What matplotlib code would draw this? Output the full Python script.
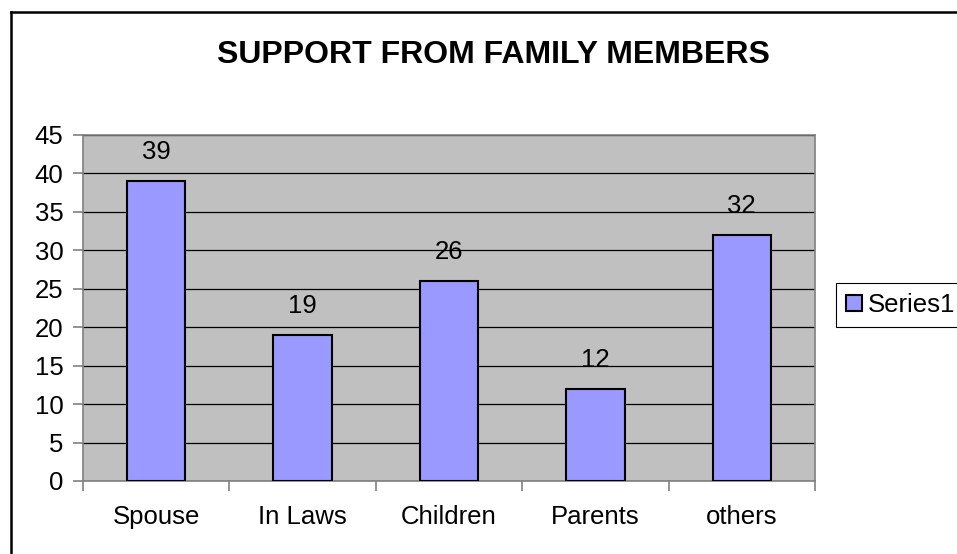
import matplotlib
matplotlib.use("Agg")
import matplotlib.pyplot as plt
from matplotlib.lines import Line2D

categories = ["Spouse", "In Laws", "Children", "Parents", "others"]
values = [39, 19, 26, 12, 32]
series_name = "Series1"
title = "SUPPORT FROM FAMILY MEMBERS"
yticks = [0, 5, 10, 15, 20, 25, 30, 35, 40, 45]

plt.rcParams['font.family'] = ['Liberation Sans', 'DejaVu Sans']

FS = 18.5
W, H = 957, 554
fig = plt.figure(figsize=(W / 100, H / 100), dpi=100)
fig.patch.set_facecolor('white')

ax = fig.add_axes([83 / W, 1 - 481 / H, (815 - 83) / W, (481 - 135) / H])
ax.set_facecolor('#C0C0C0')
x = list(range(len(categories)))
bars = ax.bar(x, values, width=0.4, color='#9999FF', edgecolor='black', linewidth=1.5,
              label=series_name, zorder=3)
ax.set_xlim(-0.5, len(categories) - 0.5)
ax.set_ylim(0, 45)
ax.set_yticks(yticks)
ax.set_yticklabels([str(t) for t in yticks])
ax.yaxis.grid(True, color='black', linewidth=0.9, zorder=1)
ax.set_axisbelow(True)
ax.set_xticks([i + 0.5 for i in x[:-1]] + [-0.5, len(categories) - 0.5], minor=False)
ax.set_xticklabels([''] * (len(categories) + 1))
ax.set_xticks(x, minor=True)
ax.set_xticklabels(categories, minor=True)
ax.tick_params(axis='x', which='minor', length=0, pad=17, labelsize=FS)
ax.tick_params(axis='x', which='major', length=7, color='#808080', width=1.2)
ax.tick_params(axis='y', length=7, color='#808080', width=1.2, pad=7, labelsize=FS)
for s in ax.spines.values():
    s.set_color('#808080')
    s.set_linewidth(1.2)

for i, v in zip(x, values):
    ax.annotate(str(v), (i, v), xytext=(0, 21), textcoords='offset points',
                ha='center', va='center', fontsize=FS)

fig.text(493 / W, 1 - 55 / H, title, ha='center', va='center', fontsize=23,
         fontweight='bold')

# outer chart frame
fig.add_artist(Line2D([11 / W, 11 / W], [1 - 12 / H, -0.1], transform=fig.transFigure,
                      color='black', linewidth=1.8))
fig.add_artist(Line2D([11 / W, 1.1], [1 - 12 / H, 1 - 12 / H], transform=fig.transFigure,
                      color='black', linewidth=1.8))

leg = fig.legend(handles=[bars], labels=[series_name], loc='center left',
                 bbox_to_anchor=(836 / W, 1 - 305 / H), fontsize=FS,
                 fancybox=False, handlelength=0.6, handleheight=0.6,
                 handletextpad=0.25, borderpad=0.4, borderaxespad=0, framealpha=1)
leg.get_frame().set_edgecolor('black')
leg.get_frame().set_linewidth(0.8)

fig.savefig('out.png', dpi=100)
